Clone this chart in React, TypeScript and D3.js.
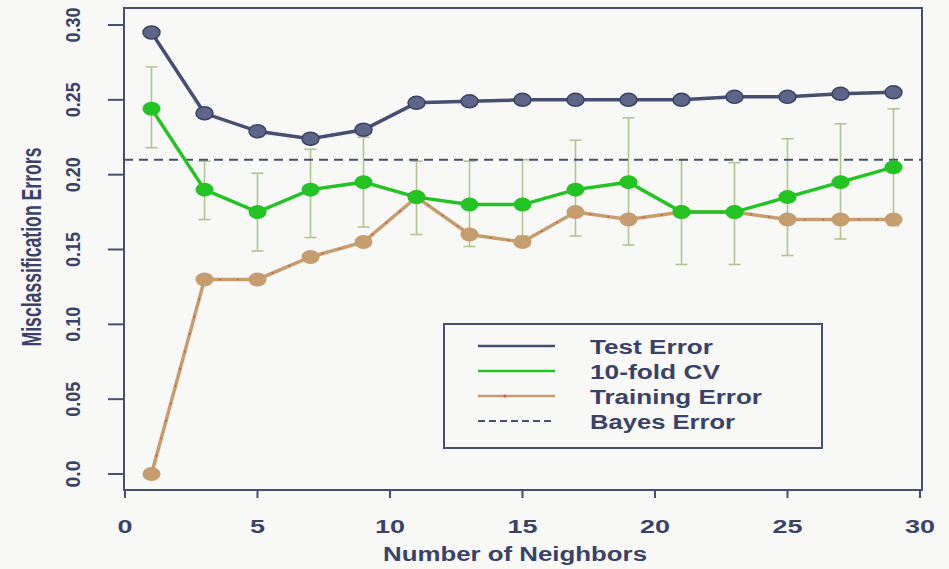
import * as d3 from "d3";

// neighbours k
const neighbors = [1, 3, 5, 7, 9, 11, 13, 15, 17, 19, 21, 23, 25, 27, 29];
const testError = [0.295, 0.241, 0.229, 0.224, 0.23, 0.248, 0.249, 0.25, 0.25, 0.25, 0.25, 0.252, 0.252, 0.254, 0.255];
const cvError = [0.244, 0.19, 0.175, 0.19, 0.195, 0.185, 0.18, 0.18, 0.19, 0.195, 0.175, 0.175, 0.185, 0.195, 0.205];
const cvUpper = [0.272, 0.209, 0.201, 0.217, 0.225, 0.209, 0.209, 0.21, 0.223, 0.238, 0.21, 0.208, 0.224, 0.234, 0.244];
const cvLower = [0.218, 0.17, 0.149, 0.158, 0.165, 0.16, 0.152, 0.159, 0.159, 0.153, 0.14, 0.14, 0.146, 0.157, 0.166];
const trainError = [0.0, 0.13, 0.13, 0.145, 0.155, 0.185, 0.16, 0.155, 0.175, 0.17, 0.175, 0.175, 0.17, 0.17, 0.17];
const bayesError = 0.21;

const xTicks = [0, 5, 10, 15, 20, 25, 30];
const yTicks = [0, 0.05, 0.1, 0.15, 0.2, 0.25, 0.3];
const yTickLabels = ["0.0", "0.05", "0.10", "0.15", "0.20", "0.25", "0.30"];

const legendItems = ["Test Error", "10-fold CV", "Training Error", "Bayes Error"];
// widths the stretched legend text takes up in the picture
const legendWidths = [123, 130, 172, 145];

const W = 949;
const H = 569;
const NAVY = "#474f70";
const TEXT = "#3b4267";
const GREEN = "#24c324";
const TAN = "#c59d6f";
const BAR = "#b3c58f";
const FONT = "'Liberation Sans', Arial, sans-serif";

export default function App() {
  const box = { left: 124, right: 922, top: 8, bottom: 490 };
  const x = d3.scaleLinear().domain([0, 30]).range([125, 920]);
  const y = d3.scaleLinear().domain([0, 0.3]).range([474, 25]);

  const line = (vals: number[]) =>
    d3
      .line<number>()
      .x((_, i) => x(neighbors[i]))
      .y((d) => y(d))(vals) || "";

  const legendRowY = d3.scaleLinear().domain([0, 3]).range([346, 421]);

  return (
    <div style={{ position: "absolute", left: 0, top: 0 }}>
      <svg width={W} height={H} style={{ display: "block", background: "#f8f8f6" }}>
        {/* plot frame */}
        <rect
          x={box.left}
          y={box.top}
          width={box.right - box.left}
          height={box.bottom - box.top}
          fill="none"
          stroke={NAVY}
          strokeWidth={2}
        />

        {/* y axis */}
        {yTicks.map((t, i) => (
          <g key={"y" + t}>
            <line x1={108} x2={box.left} y1={y(t)} y2={y(t)} stroke={NAVY} strokeWidth={2} />
            <text
              transform={`translate(80,${y(t)}) rotate(-90)`}
              textAnchor="middle"
              fontFamily={FONT}
              fontWeight="bold"
              fontSize={20}
              fill={TEXT}
              textLength={yTickLabels[i].length === 3 ? 27 : 35}
              lengthAdjust="spacingAndGlyphs"
            >
              {yTickLabels[i]}
            </text>
          </g>
        ))}
        <text
          transform={`translate(41,247) rotate(-90)`}
          textAnchor="middle"
          fontFamily={FONT}
          fontWeight="bold"
          fontSize={27}
          fill={TEXT}
          textLength={199}
          lengthAdjust="spacingAndGlyphs"
        >
          Misclassification Errors
        </text>

        {/* x axis */}
        {xTicks.map((t) => (
          <g key={"x" + t}>
            <line x1={x(t)} x2={x(t)} y1={box.bottom} y2={498} stroke={NAVY} strokeWidth={2} />
            <text
              x={x(t)}
              y={533}
              textAnchor="middle"
              fontFamily={FONT}
              fontWeight="bold"
              fontSize={18}
              fill={TEXT}
              textLength={t < 10 ? 15 : 30}
              lengthAdjust="spacingAndGlyphs"
            >
              {t}
            </text>
          </g>
        ))}
        <text
          x={515}
          y={561}
          textAnchor="middle"
          fontFamily={FONT}
          fontWeight="bold"
          fontSize={20}
          fill={TEXT}
          textLength={264}
          lengthAdjust="spacingAndGlyphs"
        >
          Number of Neighbors
        </text>

        {/* CV error bars */}
        {neighbors.map((k, i) => (
          <g key={"eb" + k} stroke={BAR} strokeWidth={1.6}>
            <line x1={x(k)} x2={x(k)} y1={y(cvUpper[i])} y2={y(cvLower[i])} />
            <line x1={x(k) - 6} x2={x(k) + 6} y1={y(cvUpper[i])} y2={y(cvUpper[i])} />
            <line x1={x(k) - 6} x2={x(k) + 6} y1={y(cvLower[i])} y2={y(cvLower[i])} />
          </g>
        ))}

        {/* Bayes error */}
        <line
          x1={box.left}
          x2={box.right}
          y1={y(bayesError)}
          y2={y(bayesError)}
          stroke={NAVY}
          strokeWidth={2}
          strokeDasharray="9 6"
        />

        {/* training error */}
        <path d={line(trainError)} fill="none" stroke={TAN} strokeWidth={3.5} />
        <path d={line(trainError)} fill="none" stroke="#d9534a" strokeWidth={1.5} strokeDasharray="2 16" />
        {neighbors.map((k, i) => (
          <ellipse key={"tr" + k} cx={x(k)} cy={y(trainError[i])} rx={9} ry={7} fill={TAN} />
        ))}

        {/* CV error */}
        <path d={line(cvError)} fill="none" stroke={GREEN} strokeWidth={3.5} />
        {neighbors.map((k, i) => (
          <ellipse key={"cv" + k} cx={x(k)} cy={y(cvError[i])} rx={9} ry={7} fill={GREEN} />
        ))}

        {/* test error */}
        <path d={line(testError)} fill="none" stroke={NAVY} strokeWidth={3.5} />
        {neighbors.map((k, i) => (
          <ellipse
            key={"te" + k}
            cx={x(k)}
            cy={y(testError[i])}
            rx={8.5}
            ry={6.5}
            fill="#5d6688"
            stroke="#3b4262"
            strokeWidth={1.5}
          />
        ))}

        {/* legend */}
        <rect x={444} y={324} width={378} height={124} fill="#f8f8f6" stroke={NAVY} strokeWidth={2} />
        {legendItems.map((name, i) => {
          const ly = legendRowY(i);
          const stroke = i === 1 ? GREEN : i === 2 ? TAN : NAVY;
          return (
            <g key={name}>
              <line
                x1={478}
                x2={555}
                y1={ly}
                y2={ly}
                stroke={stroke}
                strokeWidth={i === 3 ? 2 : 2.5}
                strokeDasharray={i === 3 ? "7 4" : undefined}
              />
              {i === 2 && <circle cx={505} cy={ly} r={1.5} fill="#d9534a" />}
              <text
                x={590}
                y={ly + 8}
                fontFamily={FONT}
                fontWeight="bold"
                fontSize={20}
                fill={TEXT}
                textLength={legendWidths[i]}
                lengthAdjust="spacingAndGlyphs"
              >
                {name}
              </text>
            </g>
          );
        })}
      </svg>
    </div>
  );
}
